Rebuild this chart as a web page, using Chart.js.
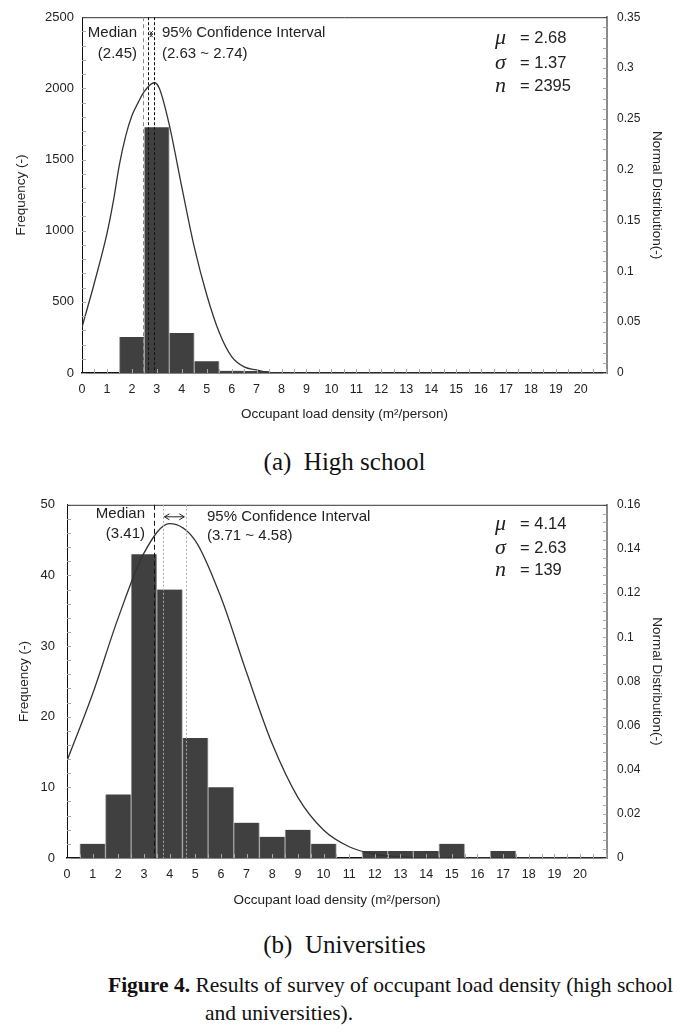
<!DOCTYPE html>
<html>
<head>
<meta charset="utf-8">
<script src="https://cdn.jsdelivr.net/npm/chart.js@4.4.1/dist/chart.umd.min.js"></script>
<style>
  body { margin: 0; background: #fff; width: 689px; height: 1032px; position: relative; overflow: hidden;
         font-family: "Liberation Sans", Arial, sans-serif; color: #222; }
  canvas { position: absolute; left: 0; }
  .t { position: absolute; white-space: nowrap; font-size: 15px; line-height: 18px; }
  .g { position: absolute; font-family: "Liberation Serif", serif; font-style: italic; font-size: 22px; line-height: 22px; }
  .s { position: absolute; white-space: nowrap; font-size: 16.5px; line-height: 20px; }
  .cap { position: absolute; left: 0; width: 689px; text-align: center; font-family: "Liberation Serif", serif;
         font-size: 25px; line-height: 28px; color: #111; }
  .fig { position: absolute; font-family: "Liberation Serif", serif; font-size: 21.5px; line-height: 26px; color: #111; white-space: nowrap; }
</style>
</head>
<body>

<canvas id="chart1" width="689" height="430" style="top:0"></canvas>
<canvas id="chart2" width="689" height="430" style="top:485px"></canvas>

<!-- chart 1 notes -->
<div class="t" style="right:552px;top:23px;text-align:right">Median</div>
<div class="t" style="right:552px;top:44px;text-align:right">(2.45)</div>
<div class="t" style="left:162px;top:23px">95% Confidence Interval</div>
<div class="t" style="left:162px;top:44px">(2.63 ~ 2.74)</div>
<div class="g" style="left:495px;top:26px">μ</div>
<div class="g" style="left:495px;top:51px">σ</div>
<div class="g" style="left:495px;top:74px">n</div>
<div class="s" style="left:520px;top:27px">= 2.68</div>
<div class="s" style="left:520px;top:52px">= 1.37</div>
<div class="s" style="left:520px;top:75px">= 2395</div>

<!-- chart 2 notes -->
<div class="t" style="right:544px;top:504px;text-align:right">Median</div>
<div class="t" style="right:544px;top:524px;text-align:right">(3.41)</div>
<div class="t" style="left:207px;top:507px">95% Confidence Interval</div>
<div class="t" style="left:207px;top:526px">(3.71 ~ 4.58)</div>
<div class="g" style="left:495px;top:512px">μ</div>
<div class="g" style="left:495px;top:536px">σ</div>
<div class="g" style="left:495px;top:558px">n</div>
<div class="s" style="left:520px;top:513px">= 4.14</div>
<div class="s" style="left:520px;top:537px">= 2.63</div>
<div class="s" style="left:520px;top:559px">= 139</div>

<div class="cap" style="top:448px">(a)&nbsp; High school</div>
<div class="cap" style="top:931px">(b)&nbsp; Universities</div>
<div class="fig" style="left:108px;top:972px;width:562px;text-align:justify;text-align-last:justify"><b>Figure 4.</b> Results of survey of occupant load density (high school</div>
<div class="fig" style="left:205px;top:1000px">and universities).</div>

<script>
  "use strict";

  // shared bins (bar centres) and x range
  var bins = [1, 2, 3, 4, 5, 6, 7, 8, 9, 10, 11, 12, 13, 14, 15, 16, 17, 18, 19, 20];
  var xMax = 21.05;
  var xLastLabel = 20;

  // (a) high school
  var hsFreq = [0, 253, 1727, 281, 82, 16, 14, 3, 0, 0, 0, 0, 0, 0, 0, 0, 0, 0, 0, 0];
  var hsCurveX = [0, 0.5, 1, 1.25, 1.5, 1.75, 2, 2.25, 2.5, 2.9, 3.1, 3.5, 4, 4.5, 5, 5.5, 6, 6.5, 7, 7.5, 8, 21];
  var hsCurveY = [0.045, 0.089, 0.137, 0.168, 0.205, 0.233, 0.253, 0.266, 0.277, 0.2855, 0.28, 0.244, 0.183, 0.124, 0.077, 0.04, 0.016, 0.006, 0.003, 0.0005, 0, 0];
  var hsMedian = 2.46;
  var hsCI = [2.66, 2.89];
  var hsYTicks = [0, 2500, 500, 100];      // min, max, step, minor
  var hsY2Ticks = [0, 0.35, 0.05, 0.01];

  // (b) universities
  var unFreq = [2, 9, 43, 38, 17, 10, 5, 3, 4, 2, 0, 1, 1, 1, 2, 0, 1, 0, 0, 0];
  var unCurveX = [0, 1, 2, 3, 4, 5, 6, 7, 8, 9, 10, 11, 12, 13, 14, 15, 21];
  var unCurveY = [0.044, 0.0744, 0.1089, 0.1381, 0.1515, 0.1438, 0.1181, 0.084, 0.0517, 0.0275, 0.0127, 0.0051, 0.0017, 0.0005, 0.0001, 0, 0];
  var unMedian = 3.39;
  var unCI = [3.74, 4.63];
  var unYTicks = [0, 50, 10, 2];
  var unY2Ticks = [0, 0.16, 0.02, 0.004];

  Chart.defaults.font.family = '"Liberation Sans", Arial, sans-serif';
  Chart.defaults.color = '#222';

  // minor ticks, frame top, median / CI lines, arrow
  var extras = {
    id: 'extras',
    afterDatasetsDraw: function(chart, args, o) {
      var c = chart.ctx, a = chart.chartArea, x = chart.scales.x, y = chart.scales.y, y2 = chart.scales.y2;
      var i, p;
      c.save();
      c.strokeStyle = '#a8a8a8';
      c.lineWidth = 1;
      c.beginPath();
      for (i = 0; i * o.yMinor <= o.yMax + 1e-9; i++) {
        p = Math.round(y.getPixelForValue(i * o.yMinor)) + 0.5;
        c.moveTo(a.left, p); c.lineTo(a.left + 4, p);
      }
      for (i = 0; i * o.y2Minor <= o.y2Max + 1e-9; i++) {
        p = Math.round(y2.getPixelForValue(i * o.y2Minor)) + 0.5;
        c.moveTo(a.right - 4, p); c.lineTo(a.right, p);
      }
      for (i = 1; i * 0.5 < xMax; i++) {
        p = Math.round(x.getPixelForValue(i * 0.5)) + 0.5;
        c.moveTo(p, a.bottom); c.lineTo(p, a.bottom - 4);
      }
      c.stroke();

      // top frame line
      c.strokeStyle = '#333';
      c.beginPath();
      c.moveTo(a.left, a.top + 0.5); c.lineTo(a.right, a.top + 0.5);
      c.stroke();

      // vertical marker lines
      o.lines.forEach(function(l) {
        var px = Math.round(x.getPixelForValue(l.v)) + 0.5;
        c.strokeStyle = l.color;
        c.setLineDash(l.dash);
        c.beginPath();
        c.moveTo(px, a.top); c.lineTo(px, a.bottom);
        c.stroke();
      });
      c.setLineDash([]);

      // double arrow between CI lines
      var x1 = x.getPixelForValue(o.arrow[0]) + 1.5, x2 = x.getPixelForValue(o.arrow[1]) - 1.5;
      var ay = a.top + o.arrowY, h = o.head;
      c.strokeStyle = '#222';
      c.beginPath();
      c.moveTo(x1, ay); c.lineTo(x2, ay);
      c.moveTo(x1 + h, ay - 3); c.lineTo(x1, ay); c.lineTo(x1 + h, ay + 3);
      c.moveTo(x2 - h, ay - 3); c.lineTo(x2, ay); c.lineTo(x2 - h, ay + 3);
      c.stroke();
      c.restore();
    }
  };

  function makeChart(id, freq, cx, cy, yT, y2T, leftW, leftPad, leftTitlePad, bottomTitlePad, lines, arrowY, head) {
    var ctx = document.getElementById(id).getContext('2d');
    return new Chart(ctx, {
      type: 'bar',
      data: {
        datasets: [{
          type: 'line',
          data: cx.map(function(v, i) { return { x: v, y: cy[i] }; }),
          xAxisID: 'x',
          yAxisID: 'y2',
          borderColor: '#333',
          borderWidth: 1.3,
          pointRadius: 0,
          cubicInterpolationMode: 'monotone',
          order: 0
        }, {
          type: 'bar',
          data: bins.map(function(b, i) { return { x: b, y: freq[i] }; }),
          xAxisID: 'x',
          yAxisID: 'y',
          backgroundColor: '#404040',
          borderColor: '#a0a0a0',
          borderWidth: { left: 1, right: 1, top: 0, bottom: 0 },
          barPercentage: 1,
          categoryPercentage: 1,
          order: 1
        }]
      },
      options: {
        responsive: false,
        animation: false,
        layout: { padding: { top: 15, left: 0, right: 0, bottom: 0 } },
        plugins: {
          legend: { display: false },
          tooltip: { enabled: false },
          extras: { yMax: yT[1], yMinor: yT[3], y2Max: y2T[1], y2Minor: y2T[3], lines: lines, arrow: [lines[1].v, lines[2].v], arrowY: arrowY, head: head }
        },
        scales: {
          x: {
            type: 'linear',
            min: 0,
            max: xMax,
            offset: false,
            grid: { display: false, drawTicks: false, offset: false },
            border: { color: '#111', width: 1.5 },
            ticks: {
              stepSize: 1, autoSkip: false, maxRotation: 0, padding: 9, font: { size: 12.5 },
              callback: function(v) { return (v <= xLastLabel && Number.isInteger(v)) ? v : ''; }
            },
            title: { display: true, text: 'Occupant load density (m²/person)', font: { size: 13.5 }, padding: { top: 0, bottom: bottomTitlePad } },
            afterFit: function(s) { s.height = 57; }
          },
          y: {
            position: 'left',
            min: yT[0], max: yT[1],
            grid: { display: false, drawTicks: false },
            border: { color: '#111', width: 1 },
            ticks: { stepSize: yT[2], padding: leftPad, font: { size: 13 }, callback: function(v) { return String(v); } },
            title: { display: true, text: 'Frequency (-)', font: { size: 13.5 }, padding: { top: leftTitlePad, bottom: 0 } },
            afterFit: function(s) { s.width = leftW; }
          },
          y2: {
            position: 'right',
            min: y2T[0], max: y2T[1],
            grid: { display: false, drawTicks: false },
            border: { color: '#8a8a8a', width: 2 },
            ticks: { stepSize: y2T[2], padding: 10, font: { size: 12 }, callback: function(v) { return String(+v.toFixed(3)); } },
            title: { display: true, text: 'Normal Distribution(-)', font: { size: 13.5 }, padding: { top: 24, bottom: 0 } },
            afterFit: function(s) { s.width = 82; }
          }
        }
      },
      plugins: [extras]
    });
  }

  // chart1 - high school
  makeChart('chart1', hsFreq, hsCurveX, hsCurveY, hsYTicks, hsY2Ticks, 82, 8, 13, 8, [
    { v: hsMedian, color: '#8a8a8a', dash: [4, 3] },
    { v: hsCI[0], color: '#111', dash: [3, 2] },
    { v: hsCI[1], color: '#111', dash: [3, 2] }
  ], 17, 3);

  // chart2 - universities
  makeChart('chart2', unFreq, unCurveX, unCurveY, unYTicks, unY2Ticks, 67, 12, 16, 7, [
    { v: unMedian, color: '#111', dash: [5, 3] },
    { v: unCI[0], color: '#aaa', dash: [2, 2] },
    { v: unCI[1], color: '#aaa', dash: [2, 2] }
  ], 12, 5);
</script>
</body>
</html>
